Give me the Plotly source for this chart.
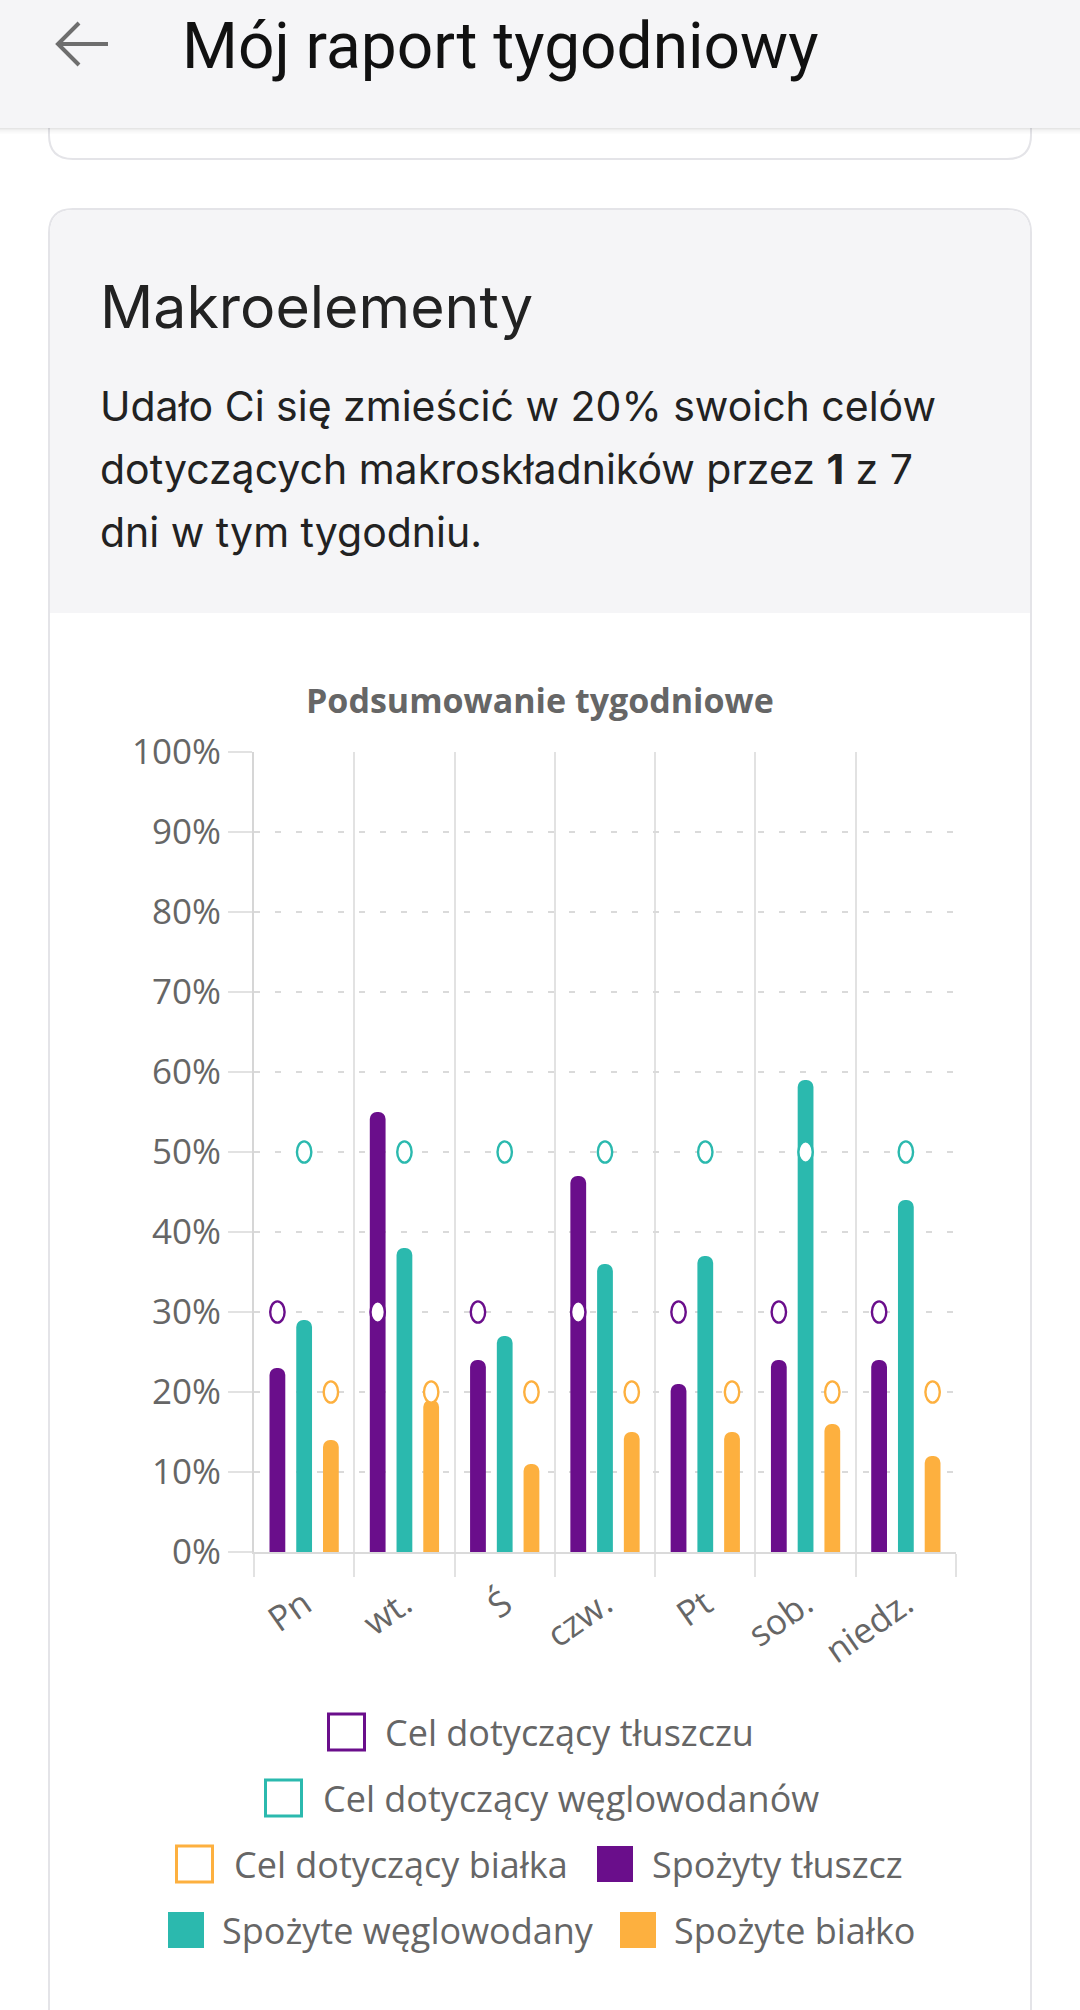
import plotly.graph_objects as go

# ---------------- data ----------------
days = ["Pn", "wt.", "Ś", "czw.", "Pt", "sob.", "niedz."]
fat_eaten = [23, 55, 24, 47, 21, 24, 24]
carbs_eaten = [29, 38, 27, 36, 37, 59, 44]
protein_eaten = [14, 19, 11, 15, 15, 16, 12]
fat_goal = [30, 30, 30, 30, 30, 30, 30]
carbs_goal = [50, 50, 50, 50, 50, 50, 50]
protein_goal = [20, 20, 20, 20, 20, 20, 20]
y_ticks = [0, 10, 20, 30, 40, 50, 60, 70, 80, 90, 100]
y_tick_labels = ["0%", "10%", "20%", "30%", "40%", "50%", "60%", "70%", "80%", "90%", "100%"]

series_names = ["Spożyty tłuszcz", "Spożyte węglowodany", "Spożyte białko"]
goal_names = ["Cel dotyczący tłuszczu", "Cel dotyczący węglowodanów", "Cel dotyczący białka"]

header_title = "Mój raport tygodniowy"
card_title = "Makroelementy"
card_lines = ["Udało Ci się zmieścić w 20% swoich celów",
              "dotyczących makroskładników przez <b>1</b> z 7",
              "dni w tym tygodniu."]
chart_title = "Podsumowanie tygodniowe"

# ---------------- style ----------------
PURPLE = "#6A0E8B"
TEAL = "#2BB9AE"
ORANGE = "#FDB03F"
colors = [PURPLE, TEAL, ORANGE]
GRID = "#E2E2E2"
DASH = "#DADADA"
TXT = "#666666"
CHART_FONT = "Open Sans"
CHART_FS = 35

W, H = 1080, 2010


def fx(x):
    return x / W


def fy(y):
    return 1 - y / H


def rrect_path(x0, y0, x1, y1, rt, rb):
    pts = [
        ("M", [(x0 + rt, y0)]),
        ("L", [(x1 - rt, y0)]),
        ("Q", [(x1, y0), (x1, y0 + rt)]),
        ("L", [(x1, y1 - rb)]),
        ("Q", [(x1, y1), (x1 - rb, y1)]),
        ("L", [(x0 + rb, y1)]),
        ("Q", [(x0, y1), (x0, y1 - rb)]),
        ("L", [(x0, y0 + rt)]),
        ("Q", [(x0, y0), (x0 + rt, y0)]),
    ]
    s = ""
    for cmd, ps in pts:
        s += cmd + " ".join(f"{fx(px):.6f},{fy(py):.6f}" for px, py in ps)
    return s + "Z"


fig = go.Figure()

series = [fat_eaten, carbs_eaten, protein_eaten]
for name, vals, col in zip(series_names, series, colors):
    fig.add_trace(go.Bar(
        x=days, y=vals, name=name,
        marker=dict(color=col, line=dict(width=0), cornerradius="50%"),
        showlegend=False, hoverinfo="skip",
    ))

shapes = []
# page chrome (below everything)
shapes.append(dict(type="path", xref="paper", yref="paper", layer="below",
                   path=rrect_path(49, -60, 1031, 159, 24, 24),
                   fillcolor="white", line=dict(color="#E4E4E8", width=2)))
shapes.append(dict(type="path", xref="paper", yref="paper", layer="below",
                   path=rrect_path(49, 209, 1031, 2150, 24, 24),
                   fillcolor="white", line=dict(color="#E4E4E8", width=2)))
shapes.append(dict(type="path", xref="paper", yref="paper", layer="below",
                   path=rrect_path(50, 210, 1030, 613, 23, 0),
                   fillcolor="#F5F5F7", line=dict(width=0)))
# header shadow
for i, a in enumerate([0.10, 0.07, 0.045, 0.03, 0.018, 0.01]):
    shapes.append(dict(type="rect", xref="paper", yref="paper", layer="below",
                       x0=0, x1=1, y0=fy(128 + i + 1), y1=fy(128 + i),
                       fillcolor=f"rgba(0,0,0,{a})", line=dict(width=0)))
shapes.append(dict(type="rect", xref="paper", yref="paper", layer="below",
                   x0=0, x1=1, y0=fy(128), y1=1,
                   fillcolor="#F5F5F7", line=dict(width=0)))
# back arrow
arrow = f"M{fx(108)},{fy(44)} L{fx(58)},{fy(44)} M{fx(79)},{fy(23)} L{fx(58)},{fy(44)} L{fx(79)},{fy(65)}"
shapes.append(dict(type="path", xref="paper", yref="paper", path=arrow,
                   line=dict(color="#6E6E6E", width=4)))

# goal markers (anchored on data coordinates)
ncat = len(days)
slot = 0.8 / 3
goals = [fat_goal, carbs_goal, protein_goal]
for k, (g, col) in enumerate(zip(goals, colors)):
    for i in range(ncat):
        shapes.append(dict(type="circle", xref="x", yref="y",
                           xsizemode="pixel", ysizemode="pixel",
                           xanchor=i + (k - 1) * slot, yanchor=g[i],
                           x0=-7.2, x1=7.2, y0=-10.6, y1=10.6,
                           fillcolor="white", line=dict(color=col, width=2.4)))

# legend (manual, centered rows)
legend_rows = [
    [(goal_names[0], PURPLE, False, 328.5, 383)],
    [(goal_names[1], TEAL, False, 265.5, 321)],
    [(goal_names[2], ORANGE, False, 176.5, 232), (series_names[0], PURPLE, True, 597, 650)],
    [(series_names[1], TEAL, True, 168, 220), (series_names[2], ORANGE, True, 620, 672)],
]
row_y = [1732, 1798, 1864, 1930]
annotations = []
for ry, row in zip(row_y, legend_rows):
    for label, col, filled, sx, tx in row:
        if filled:
            shapes.append(dict(type="rect", xref="paper", yref="paper",
                               x0=fx(sx), x1=fx(sx + 36), y0=fy(ry + 18), y1=fy(ry - 18),
                               fillcolor=col, line=dict(width=0)))
        else:
            shapes.append(dict(type="rect", xref="paper", yref="paper",
                               x0=fx(sx), x1=fx(sx + 36), y0=fy(ry + 18), y1=fy(ry - 18),
                               fillcolor="white", line=dict(color=col, width=3)))
        annotations.append(dict(xref="paper", yref="paper", x=fx(tx), y=fy(ry),
                                xanchor="left", yanchor="middle", showarrow=False,
                                text=label, font=dict(family=CHART_FONT, size=36, color=TXT)))

# texts
annotations.append(dict(xref="paper", yref="paper", x=fx(180), y=fy(46), xanchor="left",
                        yanchor="middle", showarrow=False, text=header_title,
                        font=dict(family="Roboto", size=64, color="#111111")))
annotations.append(dict(xref="paper", yref="paper", x=fx(98), y=fy(306), xanchor="left",
                        yanchor="middle", showarrow=False, text=card_title,
                        font=dict(family="Inter", size=59, color="#222222")))
for ly, line in zip([406, 469, 532], card_lines):
    annotations.append(dict(xref="paper", yref="paper", x=fx(98), y=fy(ly), xanchor="left",
                            yanchor="middle", showarrow=False, text=line,
                            font=dict(family="Inter", size=41, color="#222222")))
annotations.append(dict(xref="paper", yref="paper", x=0.5, y=fy(700), xanchor="center",
                        yanchor="middle", showarrow=False, text=f"<b>{chart_title}</b>",
                        font=dict(family=CHART_FONT, size=34, color=TXT)))

fig.update_layout(
    template="none",
    width=W, height=H,
    margin=dict(l=0, r=0, t=0, b=0, pad=0, autoexpand=False),
    paper_bgcolor="white",
    plot_bgcolor="rgba(0,0,0,0)",
    barmode="group", bargap=0.2, bargroupgap=0.41,
    shapes=shapes, annotations=annotations,
    showlegend=False,
    font=dict(family=CHART_FONT, color=TXT),
    xaxis=dict(
        domain=[fx(254), fx(956)], automargin=False,
        type="category", categoryorder="array", categoryarray=days,
        tickson="boundaries", showgrid=True, gridcolor=GRID, gridwidth=2,
        ticks="outside", ticklen=23, tickwidth=2, tickcolor=GRID,
        showline=True, linecolor="#DADADA", linewidth=2, zeroline=False,
        tickangle=-35, tickfont=dict(family=CHART_FONT, size=CHART_FS, color=TXT),
        ticklabelstandoff=16, fixedrange=True,
    ),
    yaxis=dict(
        domain=[fy(1552), fy(752)], automargin=False,
        range=[0, 100], tickmode="array", tickvals=y_ticks, ticktext=y_tick_labels,
        showgrid=True, gridcolor=DASH, gridwidth=2, griddash="6px,15px",
        ticks="outside", ticklen=24, tickwidth=2, tickcolor=GRID,
        showline=True, linecolor="#D6D6D6", linewidth=2, zeroline=False,
        tickfont=dict(family=CHART_FONT, size=CHART_FS, color=TXT),
        ticklabelstandoff=0, fixedrange=True,
    ),
)

fig.write_html("out.html", config={"displayModeBar": False},
               post_script="document.body.style.margin='0';document.documentElement.style.overflow='hidden';document.body.style.overflow='hidden';")
